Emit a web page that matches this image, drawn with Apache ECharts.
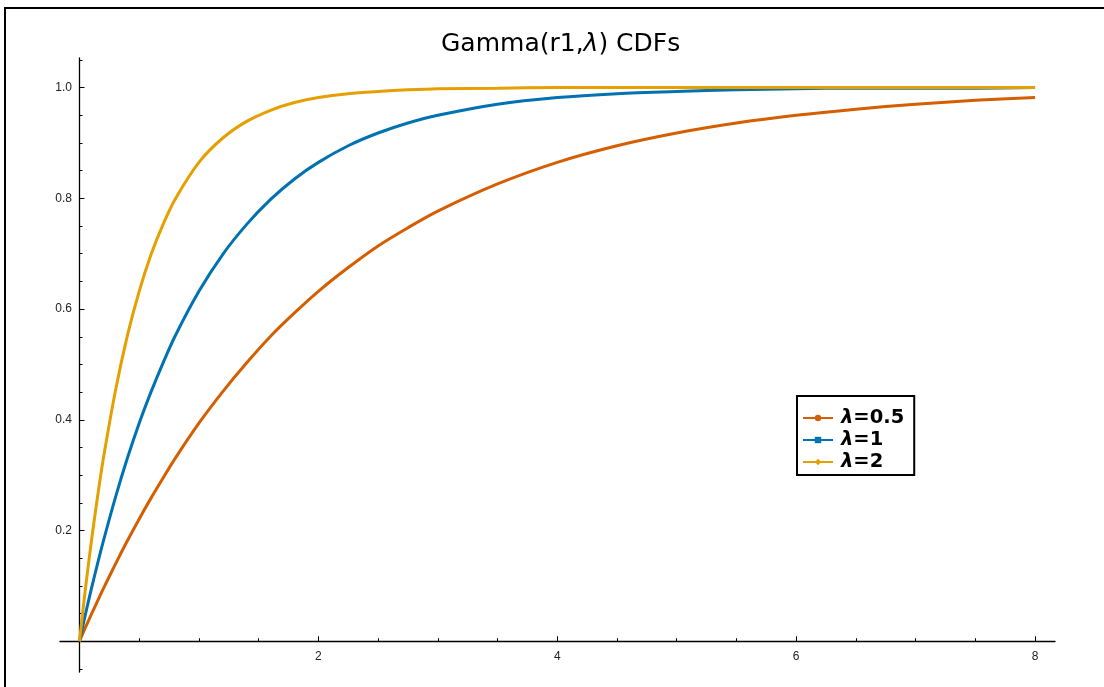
<!DOCTYPE html>
<html>
<head>
<meta charset="utf-8">
<script src="https://cdn.jsdelivr.net/npm/echarts@6/dist/echarts.min.js"></script>
<style>
html,body{margin:0;padding:0;background:#fff;}
#chart{width:1104px;height:687px;}
</style>
</head>
<body>
<div id="chart"></div>
<script>
// x positions where the curves were read
var xs = [0,0.05,0.1,0.15,0.2,0.3,0.4,0.5,0.6,0.7,0.8,1.0,1.2,1.4,1.6,1.8,2.0,2.25,2.5,2.75,3,3.5,4,4.5,5,5.5,6,6.5,7,7.5,8];
// lambda = 0.5
var cdfHalf = [0,0.025,0.049,0.072,0.095,0.139,0.181,0.221,0.259,0.295,0.330,0.394,0.451,0.503,0.551,0.593,0.632,0.675,0.714,0.747,0.777,0.826,0.865,0.895,0.918,0.936,0.950,0.961,0.970,0.977,0.982];
// lambda = 1
var cdfOne = [0,0.049,0.095,0.139,0.181,0.259,0.330,0.394,0.451,0.503,0.551,0.632,0.699,0.753,0.798,0.835,0.865,0.895,0.918,0.936,0.950,0.970,0.982,0.989,0.993,0.996,0.998,0.999,0.999,0.999,1.000];
// lambda = 2
var cdfTwo = [0,0.095,0.181,0.259,0.330,0.451,0.551,0.632,0.699,0.753,0.798,0.865,0.909,0.939,0.959,0.973,0.982,0.989,0.993,0.996,0.998,0.999,1.000,1.000,1.000,1.000,1.000,1.000,1.000,1.000,1.000];

var seriesNames = ['λ=0.5','λ=1','λ=2'];
var seriesSuffix = ['=0.5','=1','=2'];
var xMajorTicks = [0,2,4,6,8];
var xLabels = [2,4,6,8];
var xMinorTicks = [0.5,1,1.5,2.5,3,3.5,4.5,5,5.5,6.5,7,7.5];
var yMajorTicks = [0,0.2,0.4,0.6,0.8,1.0];
var yLabels = [0.2,0.4,0.6,0.8,1.0];
var yMinorTicks = [-0.05,0.05,0.1,0.15,0.25,0.3,0.35,0.45,0.5,0.55,0.65,0.7,0.75,0.85,0.9,0.95,1.05];

function pairs(ys){ return xs.map(function(x,i){ return [x, ys[i]]; }); }

var colors = ['#D55E00','#0072B2','#E69F00'];
var symbols = ['circle','rect','diamond'];
var allY = [cdfHalf, cdfOne, cdfTwo];

var FONT = '"Liberation Sans", Arial, Helvetica, sans-serif';
var WIDE = '"DejaVu Sans", "Liberation Sans", sans-serif';
var XMIN = -0.163, XMAX = 8.167, YMIN = -0.0555, YMAX = 1.0535;

var chart = echarts.init(document.getElementById('chart'));
var option = {
  animation: false,
  backgroundColor: '#fff',
  color: colors,
  title: {
    text: 'Gamma(r1,{i|λ}) CDFs',
    left: 436,
    top: 27,
    textStyle: {
      fontFamily: WIDE, fontSize: 25, fontWeight: 'normal', color: '#000',
      rich: { i: { fontFamily: WIDE, fontSize: 25, fontStyle: 'italic', color: '#000' } }
    }
  },
  graphic: [{
    type: 'rect', silent: true, z: -1,
    shape: { x: 5, y: 8, width: 1120, height: 700 },
    style: { fill: 'none', stroke: '#000', lineWidth: 2 }
  }],
  legend: {
    orient: 'vertical',
    left: 797, top: 396,
    padding: [11, 10, 2, 5],
    itemGap: 0,
    itemWidth: 30, itemHeight: 8,
    borderColor: '#000', borderWidth: 2,
    backgroundColor: '#fff',
    data: seriesNames,
    formatter: function(name){ return '{i|λ}{b|' + seriesSuffix[seriesNames.indexOf(name)] + '}'; },
    textStyle: {
      fontFamily: WIDE, fontSize: 19.5, fontWeight: 'bold', color: '#000', lineHeight: 22,
      rich: {
        i: { fontFamily: WIDE, fontSize: 19.5, fontWeight: 'bold', fontStyle: 'italic', color: '#000', lineHeight: 22, padding: [0,0,0,3] },
        b: { fontFamily: WIDE, fontSize: 19.5, fontWeight: 'bold', color: '#000', lineHeight: 22 }
      }
    }
  },
  grid: { left: 60, right: 49, top: 58, bottom: 15, containLabel: false },
  xAxis: [{
    type: 'value', min: XMIN, max: XMAX,
    axisLine: { onZero: true, onZeroAxisIndex: 0, lineStyle: { color: '#000', width: 1.3 } },
    axisTick: { show: true, inside: true, length: 5, customValues: xMajorTicks, lineStyle: { color: '#000', width: 1 } },
    axisLabel: { show: true, customValues: xLabels, margin: -21, fontFamily: FONT, fontSize: 12, color: '#222' },
    splitLine: { show: false }
  }, {
    type: 'value', min: XMIN, max: XMAX, position: 'bottom',
    axisLine: { show: false, onZero: true, onZeroAxisIndex: 0 },
    axisTick: { show: true, inside: true, length: 3, customValues: xMinorTicks, lineStyle: { color: '#000', width: 1 } },
    axisLabel: { show: false },
    splitLine: { show: false }
  }],
  yAxis: [{
    type: 'value', min: YMIN, max: YMAX,
    axisLine: { onZero: true, onZeroAxisIndex: 0, lineStyle: { color: '#000', width: 1.3 } },
    axisTick: { show: true, inside: true, length: 5, customValues: yMajorTicks, lineStyle: { color: '#000', width: 1 } },
    axisLabel: { show: true, customValues: yLabels, margin: -12, fontFamily: FONT, fontSize: 12, color: '#222',
      formatter: function(v){ return v.toFixed(1); } },
    splitLine: { show: false }
  }, {
    type: 'value', min: YMIN, max: YMAX, position: 'left',
    axisLine: { show: false, onZero: true, onZeroAxisIndex: 0 },
    axisTick: { show: true, inside: true, length: 3, customValues: yMinorTicks, lineStyle: { color: '#000', width: 1 } },
    axisLabel: { show: false },
    splitLine: { show: false }
  }],
  series: seriesNames.map(function(n, i){
    return {
      name: n, type: 'line', xAxisIndex: 0, yAxisIndex: 0,
      data: pairs(allY[i]),
      smooth: 0.3,
      symbol: symbols[i], symbolSize: 7, showSymbol: false,
      lineStyle: { width: 3, color: colors[i] },
      itemStyle: { color: colors[i] },
      z: 3 + i
    };
  })
};
chart.setOption(option);
</script>
</body>
</html>
